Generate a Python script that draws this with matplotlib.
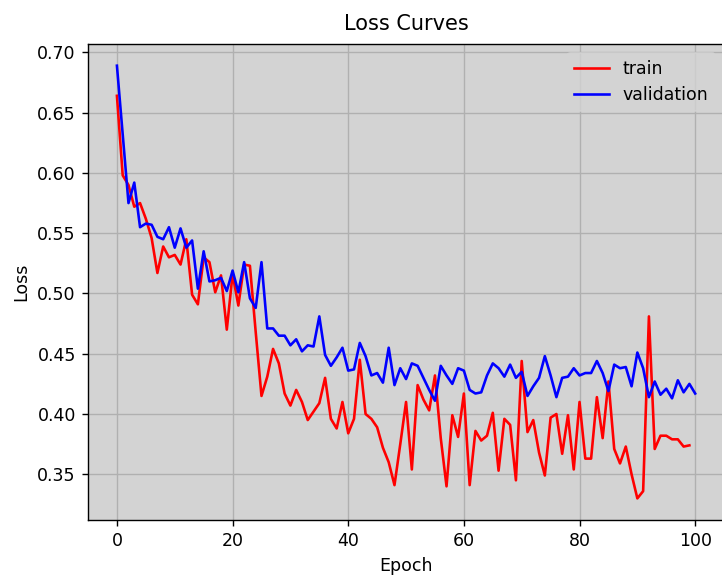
import matplotlib
matplotlib.use('Agg')
import matplotlib.pyplot as plt

# values
train_loss = [0.664, 0.598, 0.590, 0.572, 0.575, 0.562, 0.546, 0.517, 0.539, 0.530,
              0.532, 0.524, 0.545, 0.499, 0.491, 0.530, 0.526, 0.501, 0.515, 0.470,
              0.516, 0.490, 0.524, 0.523, 0.468, 0.415, 0.431, 0.454, 0.442, 0.417,
              0.407, 0.420, 0.410, 0.395, 0.402, 0.409, 0.430, 0.396, 0.388, 0.410,
              0.384, 0.396, 0.445, 0.400, 0.396, 0.389, 0.372, 0.360, 0.341, 0.375,
              0.410, 0.354, 0.424, 0.412, 0.403, 0.432, 0.380, 0.340, 0.399, 0.381,
              0.417, 0.341, 0.386, 0.378, 0.382, 0.401, 0.353, 0.396, 0.391, 0.345,
              0.444, 0.385, 0.395, 0.368, 0.349, 0.397, 0.400, 0.367, 0.399, 0.354,
              0.410, 0.363, 0.363, 0.414, 0.380, 0.427, 0.371, 0.359, 0.373, 0.350,
              0.330, 0.336, 0.481, 0.371, 0.382, 0.382, 0.379, 0.379, 0.373, 0.374]

val_loss = [0.689, 0.632, 0.575, 0.592, 0.555, 0.558, 0.557, 0.547, 0.545, 0.555,
            0.538, 0.554, 0.538, 0.544, 0.504, 0.535, 0.510, 0.511, 0.513, 0.502,
            0.519, 0.501, 0.526, 0.496, 0.488, 0.526, 0.471, 0.471, 0.465, 0.465,
            0.457, 0.462, 0.452, 0.457, 0.456, 0.481, 0.449, 0.440, 0.447, 0.455,
            0.436, 0.437, 0.459, 0.448, 0.432, 0.434, 0.426, 0.455, 0.424, 0.438,
            0.429, 0.442, 0.440, 0.430, 0.420, 0.411, 0.440, 0.432, 0.425, 0.438,
            0.436, 0.420, 0.417, 0.418, 0.432, 0.442, 0.438, 0.431, 0.441, 0.430,
            0.435, 0.415, 0.423, 0.430, 0.448, 0.432, 0.414, 0.430, 0.431, 0.438,
            0.432, 0.434, 0.434, 0.444, 0.434, 0.419, 0.441, 0.438, 0.439, 0.423,
            0.451, 0.438, 0.414, 0.427, 0.416, 0.421, 0.413, 0.428, 0.418, 0.425,
            0.417]

train_epochs = list(range(len(train_loss)))
val_epochs = list(range(len(val_loss)))

fig = plt.figure(figsize=(5.776, 4.624), dpi=125)
ax = fig.add_axes([0.1219, 0.1003, 0.881, 0.8235])
ax.set_facecolor('lightgray')
ax.plot(train_epochs, train_loss, color='red', label='train')
ax.plot(val_epochs, val_loss, color='blue', label='validation')
ax.grid(True)
ax.set_title('Loss Curves', pad=8)
ax.set_xlabel('Epoch')
ax.set_ylabel('Loss')
ax.legend(loc='upper right', facecolor='lightgray', edgecolor='lightgray')
fig.savefig('out.png', dpi=125)
